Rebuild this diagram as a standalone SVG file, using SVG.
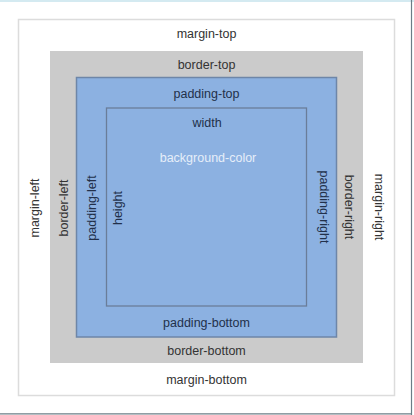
<svg xmlns="http://www.w3.org/2000/svg" width="414" height="415" viewBox="0 0 414 415">
  <style>
    text { font-family: "Liberation Sans", Arial, Helvetica, sans-serif; font-size: 12.5px; text-anchor: middle; }
    .outer { fill: #333333; }
    .pad { fill: #22304a; }
    .bg { fill: #e6eef9; }
  </style>
  <rect x="0" y="0" width="414" height="415" fill="#ffffff"/>
  <g id="frame">
    <rect x="0" y="0" width="414" height="2" fill="#d4eaf1"/>
    <line x1="411.5" y1="0" x2="411.5" y2="415" stroke="#6b7d86" stroke-width="1.2"/>
    <line x1="0" y1="413.8" x2="412" y2="413.8" stroke="#6b7d86" stroke-width="1.2"/>
  </g>
  <g id="margin">
    <rect x="18.5" y="19.5" width="376" height="376" fill="#ffffff" stroke="#dcdcdc" stroke-width="1.5"/>
    <text class="outer" x="206.5" y="38">margin-top</text>
    <text class="outer" x="206.5" y="383.5">margin-bottom</text>
    <text class="outer" transform="translate(39,208) rotate(-90)">margin-left</text>
    <text class="outer" transform="translate(375,207) rotate(90)">margin-right</text>
  </g>
  <g id="border">
    <rect x="50" y="51" width="313" height="312" fill="#cbcbcb"/>
    <text class="outer" x="206.5" y="68.5">border-top</text>
    <text class="outer" x="206.5" y="355">border-bottom</text>
    <text class="outer" transform="translate(68,208) rotate(-90)">border-left</text>
    <text class="outer" transform="translate(345,207) rotate(90)">border-right</text>
  </g>
  <g id="padding">
    <rect x="76.5" y="77.5" width="260" height="259.5" fill="#8cb1e1" stroke="#6e86a8" stroke-width="1.5"/>
    <text class="pad" x="206.5" y="97.5">padding-top</text>
    <text class="pad" x="206.5" y="326.5">padding-bottom</text>
    <text class="pad" transform="translate(96,208) rotate(-90)">padding-left</text>
    <text class="pad" transform="translate(320,207) rotate(90)">padding-right</text>
  </g>
  <g id="content">
    <rect x="106.5" y="108" width="200" height="198" fill="#8cb1e1" stroke="#6a7d99" stroke-width="1.3"/>
    <text class="pad" x="207" y="126.5">width</text>
    <text class="pad" transform="translate(122,208) rotate(-90)">height</text>
    <text class="bg" x="208" y="162">background-color</text>
  </g>
</svg>
